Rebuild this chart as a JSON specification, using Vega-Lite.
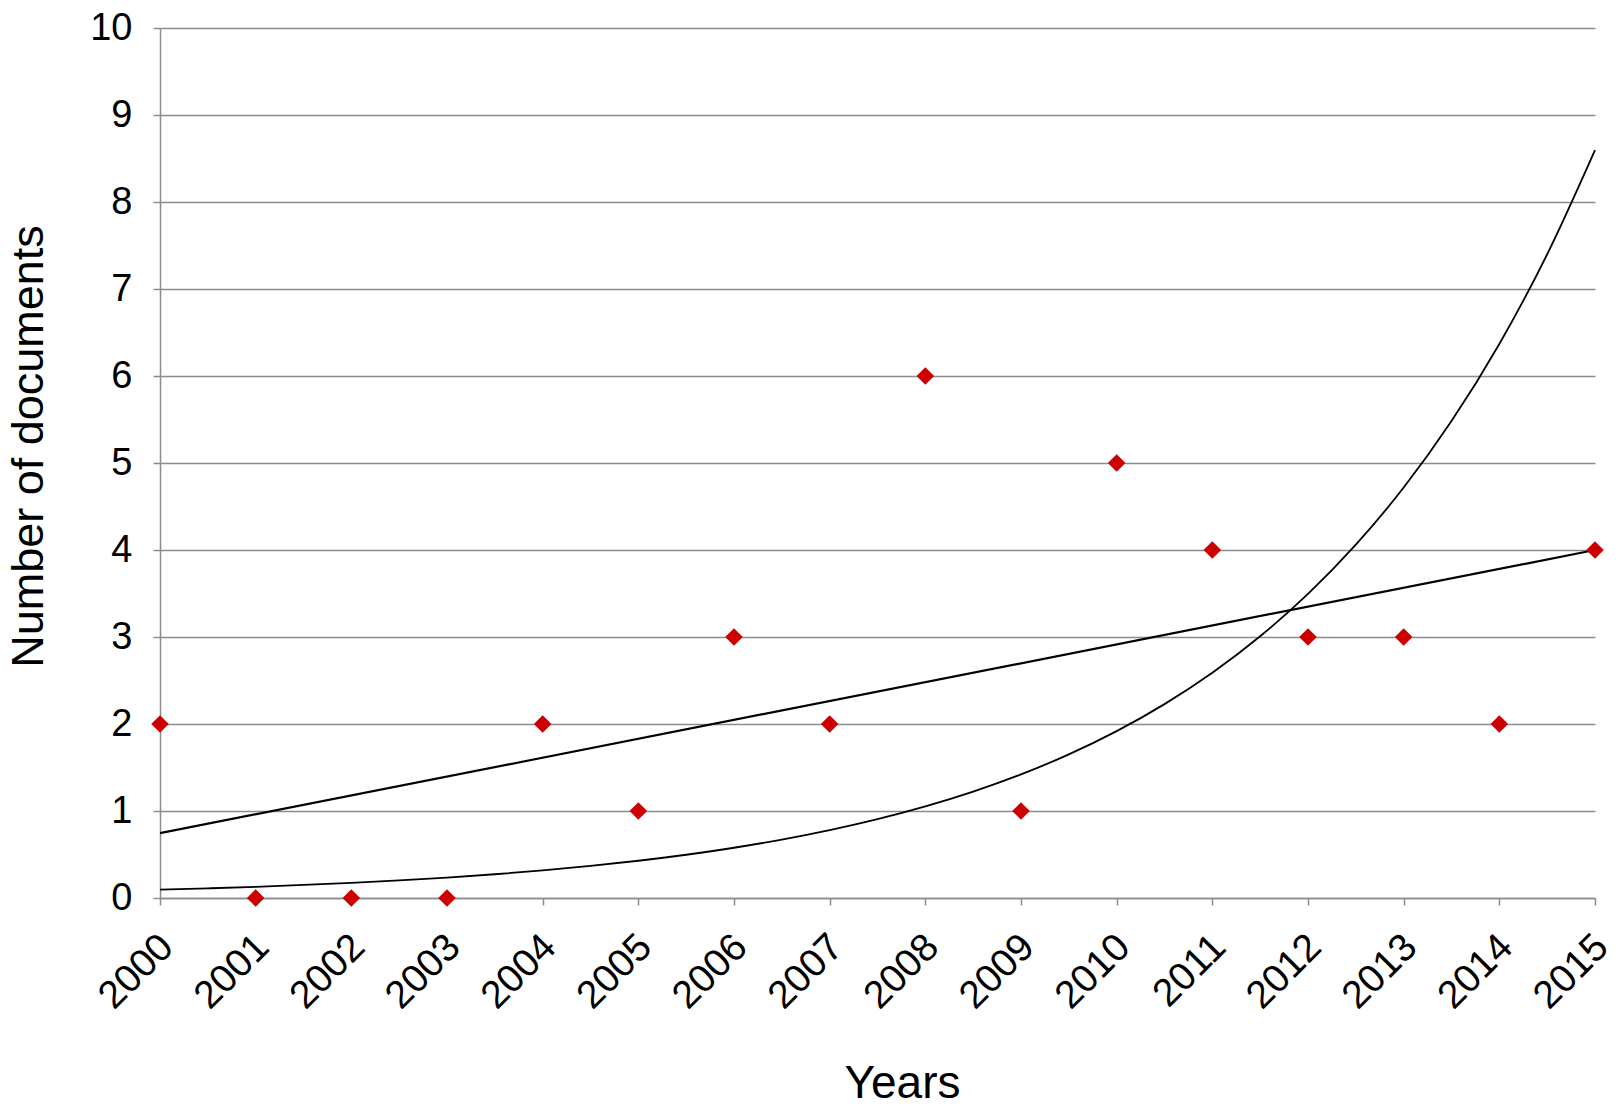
{
  "$schema": "https://vega.github.io/schema/vega-lite/v6.json",
  "width": 1435,
  "height": 870,
  "autosize": {"type": "none"},
  "padding": {"left": 160, "top": 28, "right": 26, "bottom": 213},
  "background": "white",
  "config": {
    "view": {"stroke": null},
    "font": "Liberation Sans",
    "axis": {
      "labelFont": "Liberation Sans",
      "titleFont": "Liberation Sans",
      "labelColor": "#000000",
      "titleColor": "#000000",
      "titleFontWeight": "normal",
      "domainColor": "#8c8c8c",
      "tickColor": "#8c8c8c",
      "gridColor": "#8c8c8c",
      "domainWidth": 1.5,
      "tickWidth": 1.5,
      "gridWidth": 1.5,
      "tickSize": 7
    }
  },
  "datasets": {
    "docs": [
      {"year": 2000, "value": 2}, {"year": 2001, "value": 0}, {"year": 2002, "value": 0}, {"year": 2003, "value": 0},
      {"year": 2004, "value": 2}, {"year": 2005, "value": 1}, {"year": 2006, "value": 3}, {"year": 2007, "value": 2},
      {"year": 2008, "value": 6}, {"year": 2009, "value": 1}, {"year": 2010, "value": 5}, {"year": 2011, "value": 4},
      {"year": 2012, "value": 3}, {"year": 2013, "value": 3}, {"year": 2014, "value": 2}, {"year": 2015, "value": 4}
    ],
    "linear": [
      {"year": 2000, "value": 0.745}, {"year": 2015, "value": 4.0}
    ],
    "expo": [
      {"year": 2000, "value": 0.0955}, {"year": 2000.5, "value": 0.111}, {"year": 2001, "value": 0.1289},
      {"year": 2001.5, "value": 0.1498}, {"year": 2002, "value": 0.174}, {"year": 2002.5, "value": 0.2022},
      {"year": 2003, "value": 0.2349}, {"year": 2003.5, "value": 0.2729}, {"year": 2004, "value": 0.3171},
      {"year": 2004.5, "value": 0.3684}, {"year": 2005, "value": 0.428}, {"year": 2005.5, "value": 0.4973},
      {"year": 2006, "value": 0.5777}, {"year": 2006.5, "value": 0.6712}, {"year": 2007, "value": 0.7799},
      {"year": 2007.5, "value": 0.9061}, {"year": 2008, "value": 1.0527}, {"year": 2008.5, "value": 1.2231},
      {"year": 2009, "value": 1.421}, {"year": 2009.5, "value": 1.651}, {"year": 2010, "value": 1.9182},
      {"year": 2010.5, "value": 2.2286}, {"year": 2011, "value": 2.5893}, {"year": 2011.5, "value": 3.0083},
      {"year": 2012, "value": 3.4951}, {"year": 2012.5, "value": 4.0608}, {"year": 2013, "value": 4.7179},
      {"year": 2013.5, "value": 5.4814}, {"year": 2014, "value": 6.3685}, {"year": 2014.5, "value": 7.3991},
      {"year": 2015, "value": 8.5966}
    ]
  },
  "encoding": {
    "x": {
      "field": "year",
      "type": "quantitative",
      "scale": {"domain": [2000, 2015], "nice": false, "zero": false},
      "axis": {
        "values": [2000, 2001, 2002, 2003, 2004, 2005, 2006, 2007, 2008, 2009, 2010, 2011, 2012, 2013, 2014, 2015],
        "format": "d",
        "labelAngle": -45,
        "labelFontSize": 39,
        "labelPadding": 22,
        "labelOffset": -7,
        "grid": false,
        "title": "Years",
        "titleFontSize": 46,
        "titleX": 742,
        "titleY": 199,
        "titleAlign": "center",
        "titleBaseline": "alphabetic"
      }
    },
    "y": {
      "field": "value",
      "type": "quantitative",
      "scale": {"domain": [0, 10], "nice": false},
      "axis": {
        "values": [0, 1, 2, 3, 4, 5, 6, 7, 8, 9, 10],
        "labelFontSize": 38,
        "labelPadding": 21,
        "grid": true,
        "title": "Number of documents",
        "titleFontSize": 45,
        "titleAngle": -90,
        "titleX": -132,
        "titleY": 418,
        "titleAlign": "center",
        "titleBaseline": "middle"
      }
    }
  },
  "layer": [
    {
      "data": {"name": "expo"},
      "mark": {"type": "line", "color": "#000000", "strokeWidth": 1.8, "interpolate": "monotone"}
    },
    {
      "data": {"name": "linear"},
      "mark": {"type": "line", "color": "#000000", "strokeWidth": 2.2}
    },
    {
      "data": {"name": "docs"},
      "mark": {"type": "point", "shape": "diamond", "filled": true, "color": "#cc0000", "size": 310, "opacity": 1}
    }
  ]
}
